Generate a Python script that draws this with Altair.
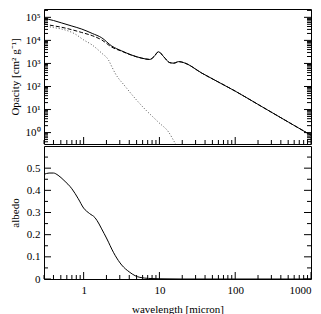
import json
import altair as alt
import pandas as pd

# ---------------- data ----------------
lam_total = [0.3, 0.4, 0.514, 0.7, 0.944, 1.3, 1.73, 2.35, 3.18, 4.32, 5.85, 7.47,
             8.44, 9.73, 11.4, 13.7, 15.5, 18.0, 21.0, 36.3, 100, 225, 508, 1000]
k_total = [9.0e4, 7.3e4, 5.7e4, 4.2e4, 3.1e4, 2.0e4, 1.3e4, 5.7e3, 3.5e3, 2.3e3, 1.7e3, 1.49e3,
           1.95e3, 3.2e3, 1.95e3, 1.08e3, 1.03e3, 1.2e3, 1.08e3, 380, 63, 13.3, 2.8, 0.77]

lam_abs = [0.3, 0.4, 0.514, 0.7, 0.944, 1.3, 1.73, 2.35, 3.18, 4.32, 5.85, 7.47,
           8.44, 9.73, 11.4, 13.7, 15.5, 18.0, 21.0, 36.3, 100, 225, 508, 1000]
k_abs = [5.1e4, 4.3e4, 3.7e4, 2.9e4, 2.2e4, 1.6e4, 1.05e4, 5.1e3, 3.38e3, 2.26e3, 1.69e3, 1.485e3,
         1.945e3, 3.2e3, 1.95e3, 1.08e3, 1.03e3, 1.2e3, 1.08e3, 380, 63, 13.3, 2.8, 0.77]

lam_sca = [0.3, 0.4, 0.514, 0.77, 1.0, 1.28, 1.73, 2.13, 2.35, 2.6, 3.52, 5.85, 9.73, 13.2, 16.2, 20.0]
k_sca = [4.4e4, 3.6e4, 3.1e4, 1.9e4, 1.05e4, 6.5e3, 2.8e3, 1.4e3, 730, 380, 103, 14.5, 2.8, 1.06, 0.34, 0.12]

lam_alb = [0.3, 0.35, 0.4, 0.46, 0.55, 0.7, 0.85, 1.0, 1.2, 1.41, 1.6, 1.73, 2.0, 2.13, 2.35,
           2.6, 3.18, 4.0, 4.77, 6.4, 8.0, 10, 20, 100, 1000]
albedo = [0.472, 0.478, 0.478, 0.468, 0.445, 0.407, 0.362, 0.32, 0.295, 0.277, 0.248, 0.226, 0.185, 0.166,
          0.135, 0.107, 0.063, 0.032, 0.015, 0.004, 0.002, 0.001, 0.0, 0.0, 0.0]

# tick values and labels
x_major = [1, 10, 100, 1000]
x_minor = [m * d for d in (0.1, 1, 10, 100) for m in range(2, 10) if 0.3 <= m * d <= 1000]
y_op_major = [1, 10, 100, 1000, 10000, 100000]
y_op_labels = ["10⁰", "10¹", "10²", "10³", "10⁴", "10⁵"]
y_op_minor = [m * d for d in (0.1, 1, 10, 100, 1000, 10000, 100000) for m in range(2, 10)
              if 0.32 <= m * d <= 2.3e5]
y_alb_major = [0, 0.1, 0.2, 0.3, 0.4, 0.5]
y_alb_minor = [0.05, 0.15, 0.25, 0.35, 0.45, 0.55]

# ---------------- layout ----------------
W = 267
H1 = 135
H2 = 133
MAJ = 7
MIN = 4
FONT = "Liberation Serif"

xscale = alt.Scale(type="log", domain=[0.3, 1000], nice=False)
yscale1 = alt.Scale(type="log", domain=[0.32, 2.3e5], nice=False)
yscale2 = alt.Scale(type="linear", domain=[0, 0.6], nice=False, zero=False)

label_expr = json.dumps(y_op_labels, ensure_ascii=False) + "[round(log(datum.value)/LN10)]"

y1_axis = alt.Axis(values=y_op_major, labelExpr=label_expr, ticks=False, tickSize=0, domain=False,
                   grid=False, labelPadding=4, title="Opacity [cm² g⁻¹]", titleX=-29, titleY=H1 / 2,
                   titleAngle=270, titleBaseline="middle", titleAlign="center")
y2_axis = alt.Axis(values=y_alb_major, format="~g", ticks=False, tickSize=0, domain=False,
                   grid=False, labelPadding=4, title="albedo", titleX=-29, titleY=H2 / 2,
                   titleAngle=270, titleBaseline="middle", titleAlign="center")
x2_axis = alt.Axis(values=x_major, format="d", ticks=False, tickSize=0, domain=False, grid=False,
                   labelPadding=5, title="wavelength [micron]", titleY=30, titleBaseline="middle")


def line_layer(lam, val, yscale, yaxis, xaxis, **style):
    df = pd.DataFrame({"lam": lam, "v": val})
    return alt.Chart(df).mark_line(color=style.pop("color", "black"), strokeWidth=1, clip=True,
                                   interpolate="monotone", **style).encode(
        x=alt.X("lam:Q", scale=xscale, axis=xaxis),
        y=alt.Y("v:Q", scale=yscale, axis=yaxis),
    )


def yticks(vals, length, yscale, yaxis):
    base = alt.Chart(pd.DataFrame({"v": vals}))
    left = base.mark_rule(color="black", strokeWidth=1).encode(
        y=alt.Y("v:Q", scale=yscale, axis=yaxis), x=alt.value(0), x2=alt.value(length))
    right = base.mark_rule(color="black", strokeWidth=1).encode(
        y=alt.Y("v:Q", scale=yscale, axis=yaxis), x=alt.value(W), x2=alt.value(W - length))
    return [left, right]


def xticks(vals, length, h, xaxis):
    base = alt.Chart(pd.DataFrame({"lam": vals}))
    return [base.mark_rule(color="black", strokeWidth=1).encode(
        x=alt.X("lam:Q", scale=xscale, axis=xaxis), y=alt.value(h), y2=alt.value(h - length))]


top_layers = [
    line_layer(lam_total, k_total, yscale1, y1_axis, None),
    line_layer(lam_abs, k_abs, yscale1, y1_axis, None, strokeDash=[4, 2]),
    line_layer(lam_sca, k_sca, yscale1, y1_axis, None, strokeDash=[1, 2], color="#555555"),
]
top_layers += yticks(y_op_major, MAJ, yscale1, y1_axis)
top_layers += yticks(y_op_minor, MIN, yscale1, y1_axis)
top_layers += xticks(x_major, MAJ, H1, None)
top_layers += xticks(x_minor, MIN, H1, None)
top = alt.layer(*top_layers).properties(width=W, height=H1)

bot_layers = [line_layer(lam_alb, albedo, yscale2, y2_axis, x2_axis)]
bot_layers += yticks(y_alb_major, MAJ, yscale2, y2_axis)
bot_layers += yticks(y_alb_minor, MIN, yscale2, y2_axis)
bot_layers += xticks(x_major, MAJ, H2, x2_axis)
bot_layers += xticks(x_minor, MIN, H2, x2_axis)
bottom = alt.layer(*bot_layers).properties(width=W, height=H2)

chart = alt.vconcat(top, bottom, spacing=0).properties(
    padding={"top": 0, "left": 0, "right": 0, "bottom": 0}
).configure_view(stroke="black", strokeWidth=1).configure_axis(
    labelFont=FONT, labelFontSize=11, labelColor="black",
    titleFont=FONT, titleFontSize=11, titleFontWeight="normal", titleColor="black",
)

chart.save("out.html", embed_options={"renderer": "svg", "actions": False})
